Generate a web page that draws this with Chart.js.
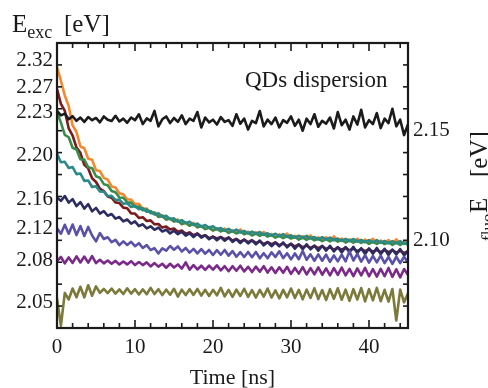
<!DOCTYPE html>
<html>
<head>
<meta charset="utf-8">
<script src="https://cdn.jsdelivr.net/npm/chart.js"></script>
<style>
  html, body { margin: 0; padding: 0; background: #ffffff; }
  #wrap { width: 488px; height: 388px; position: relative; }
</style>
</head>
<body>
<div id="wrap"><canvas id="c" width="488" height="388"></canvas></div>
<script>
// ---------- data ----------
const times = [0,0.5,1,1.5,2,2.5,3,3.5,4,4.5,5,5.5,6,6.5,7,7.5,8,8.5,9,9.5,10,10.5,11,11.5,12,12.5,13,13.5,14,14.5,15,15.5,16,16.5,17,17.5,18,18.5,19,19.5,20,20.5,21,21.5,22,22.5,23,23.5,24,24.5,25,25.5,26,26.5,27,27.5,28,28.5,29,29.5,30,30.5,31,31.5,32,32.5,33,33.5,34,34.5,35,35.5,36,36.5,37,37.5,38,38.5,39,39.5,40,40.5,41,41.5,42,42.5,43,43.5,44,44.5,45];

const qdDispersion = [2.1590,2.1570,2.1578,2.1552,2.1566,2.1545,2.1560,2.1540,2.1562,2.1548,
2.1558,2.1538,2.1565,2.1550,2.1544,2.1568,2.1542,2.1555,2.1536,2.1560,
2.1548,2.1575,2.1530,2.1556,2.1545,2.1590,2.1520,2.1552,2.1565,2.1535,
2.1558,2.1540,2.1570,2.1530,2.1555,2.1545,2.1585,2.1515,2.1560,2.1538,
2.1550,2.1528,2.1562,2.1540,2.1548,2.1522,2.1575,2.1532,2.1555,2.1505,
2.1545,2.1535,2.1590,2.1520,2.1550,2.1530,2.1560,2.1515,2.1548,2.1536,
2.1565,2.1522,2.1550,2.1500,2.1555,2.1530,2.1575,2.1518,2.1545,2.1532,
2.1560,2.1510,2.1585,2.1525,2.1550,2.1505,2.1565,2.1528,2.1595,2.1515,
2.1548,2.1530,2.1580,2.1512,2.1555,2.1535,2.1600,2.1520,2.1550,2.1480,
2.1530];

const exc232 = [2.1790,2.1728,2.1660,2.1612,2.1524,2.1494,2.1428,2.1420,2.1372,2.1367,
2.1320,2.1316,2.1285,2.1277,2.1246,2.1241,2.1214,2.1210,2.1186,2.1186,
2.1165,2.1167,2.1144,2.1145,2.1126,2.1128,2.1110,2.1115,2.1094,2.1100,
2.1086,2.1095,2.1074,2.1080,2.1067,2.1080,2.1059,2.1066,2.1054,2.1061,
2.1045,2.1055,2.1042,2.1054,2.1037,2.1045,2.1034,2.1050,2.1029,2.1039,
2.1029,2.1037,2.1024,2.1038,2.1021,2.1029,2.1015,2.1027,2.1015,2.1031,
2.1011,2.1021,2.1007,2.1019,2.1007,2.1022,2.1002,2.1014,2.1002,2.1014,
2.1001,2.1018,2.0996,2.1008,2.0993,2.1005,2.0993,2.1007,2.0990,2.1003,
2.0991,2.1007,2.0986,2.0999,2.0985,2.1001,2.0985,2.1004,2.0982,2.0996,
2.0983];

const exc227 = [2.1690,2.1622,2.1590,2.1511,2.1478,2.1423,2.1399,2.1344,2.1328,2.1283,
2.1266,2.1236,2.1225,2.1200,2.1194,2.1173,2.1170,2.1149,2.1146,2.1123,
2.1122,2.1102,2.1105,2.1088,2.1091,2.1073,2.1074,2.1058,2.1063,2.1049,
2.1054,2.1039,2.1045,2.1030,2.1036,2.1023,2.1031,2.1017,2.1023,2.1010,
2.1016,2.1008,2.1015,2.1005,2.1012,2.0999,2.1006,2.0994,2.1003,2.0992,
2.1000,2.0988,2.0995,2.0983,2.0992,2.0982,2.0990,2.0978,2.0985,2.0974,
2.0983,2.0972,2.0981,2.0968,2.0976,2.0965,2.0974,2.0964,2.0973,2.0961,
2.0968,2.0957,2.0967,2.0957,2.0966,2.0954,2.0962,2.0951,2.0961,2.0951,
2.0960,2.0948,2.0956,2.0946,2.0956,2.0946,2.0955,2.0944,2.0952,2.0942,
2.0950];

const exc223 = [2.1585,2.1537,2.1481,2.1470,2.1422,2.1414,2.1370,2.1368,2.1333,2.1329,
2.1292,2.1285,2.1256,2.1251,2.1225,2.1219,2.1195,2.1194,2.1173,2.1172,
2.1152,2.1154,2.1137,2.1141,2.1124,2.1125,2.1107,2.1110,2.1095,2.1101,
2.1086,2.1090,2.1074,2.1080,2.1067,2.1074,2.1060,2.1065,2.1051,2.1057,
2.1045,2.1053,2.1041,2.1047,2.1034,2.1042,2.1031,2.1040,2.1028,2.1035,
2.1022,2.1031,2.1020,2.1029,2.1017,2.1025,2.1012,2.1020,2.1010,2.1019,
2.1008,2.1016,2.1003,2.1012,2.1002,2.1012,2.1000,2.1008,2.0996,2.1005,
2.0995,2.1005,2.0994,2.1002,2.0990,2.0999,2.0989,2.0999,2.0988,2.0996,
2.0984,2.0993,2.0984,2.0994,2.0983,2.0991,2.0979,2.0989,2.0979,2.0989,
2.0979];

const exc220 = [2.1395,2.1356,2.1358,2.1330,2.1334,2.1302,2.1305,2.1271,2.1273,2.1243,
2.1247,2.1223,2.1222,2.1202,2.1203,2.1184,2.1186,2.1167,2.1169,2.1152,
2.1157,2.1142,2.1146,2.1130,2.1134,2.1118,2.1123,2.1108,2.1112,2.1096,
2.1100,2.1085,2.1092,2.1079,2.1085,2.1070,2.1076,2.1062,2.1070,2.1057,
2.1064,2.1050,2.1056,2.1044,2.1052,2.1041,2.1049,2.1036,2.1043,2.1031,
2.1040,2.1030,2.1038,2.1025,2.1032,2.1021,2.1030,2.1019,2.1028,2.1015,
2.1023,2.1012,2.1021,2.1011,2.1020,2.1008,2.1015,2.1004,2.1014,2.1004,
2.1012,2.1000,2.1008,2.0997,2.1007,2.0997,2.1006,2.0994,2.1002,2.0991,
2.1001,2.0991,2.1001,2.0989,2.0997,2.0986,2.0996,2.0987,2.0996,2.0984,
2.0992];

const exc216 = [2.1195,2.1180,2.1202,2.1172,2.1188,2.1156,2.1174,2.1145,2.1165,2.1132,
2.1148,2.1122,2.1133,2.1112,2.1120,2.1099,2.1106,2.1086,2.1095,2.1076,
2.1086,2.1065,2.1073,2.1054,2.1064,2.1048,2.1058,2.1040,2.1049,2.1031,
2.1044,2.1028,2.1039,2.1021,2.1032,2.1015,2.1030,2.1012,2.1023,2.1005,
2.1017,2.1000,2.1015,2.0998,2.1013,2.0993,2.1006,2.0987,2.1003,2.0986,
2.1000,2.0982,2.0999,2.0977,2.0992,2.0973,2.0990,2.0972,2.0990,2.0968,
2.0985,2.0962,2.0981,2.0960,2.0982,2.0959,2.0976,2.0953,2.0975,2.0953,
2.0975,2.0949,2.0969,2.0945,2.0969,2.0946,2.0970,2.0942,2.0964,2.0938,
2.0963,2.0939,2.0965,2.0937,2.0961,2.0933,2.0958,2.0935,2.0960,2.0932,
2.0950];

const exc212 = [2.1055,2.1030,2.1071,2.1030,2.1072,2.1024,2.1065,2.1020,2.1061,2.1022,
2.0995,2.1033,2.1006,2.1014,2.0992,2.1002,2.0978,2.0995,2.0979,2.0993,
2.0973,2.0987,2.0965,2.0978,2.0956,2.0964,2.0940,2.0963,2.0953,2.0974,
2.0957,2.0972,2.0949,2.0965,2.0944,2.0961,2.0940,2.0960,2.0939,2.0956,
2.0933,2.0955,2.0934,2.0956,2.0930,2.0951,2.0925,2.0946,2.0924,2.0947,
2.0923,2.0947,2.0918,2.0941,2.0918,2.0945,2.0924,2.0950,2.0919,2.0941,
2.0913,2.0940,2.0914,2.0951,2.0911,2.0936,2.0907,2.0936,2.0907,2.0935,
2.0902,2.0931,2.0904,2.0935,2.0904,2.0950,2.0908,2.0938,2.0903,2.0932,
2.0898,2.0929,2.0899,2.0930,2.0896,2.0924,2.0893,2.0925,2.0896,2.0925,
2.0898];

const exc208 = [2.0905,2.0924,2.0895,2.0922,2.0897,2.0927,2.0899,2.0926,2.0898,2.0928,
2.0896,2.0911,2.0895,2.0908,2.0893,2.0906,2.0890,2.0903,2.0890,2.0905,
2.0887,2.0901,2.0887,2.0899,2.0881,2.0896,2.0880,2.0893,2.0875,2.0893,
2.0876,2.0890,2.0871,2.0899,2.0866,2.0887,2.0867,2.0884,2.0865,2.0885,
2.0866,2.0886,2.0863,2.0882,2.0859,2.0882,2.0861,2.0884,2.0858,2.0879,
2.0855,2.0880,2.0857,2.0882,2.0853,2.0877,2.0851,2.0877,2.0852,2.0879,
2.0847,2.0874,2.0848,2.0878,2.0844,2.0873,2.0845,2.0877,2.0843,2.0872,
2.0840,2.0873,2.0842,2.0875,2.0840,2.0870,2.0837,2.0872,2.0840,2.0874,
2.0836,2.0869,2.0834,2.0870,2.0836,2.0874,2.0833,2.0868,2.0831,2.0869,
2.0842];

const exc205 = [2.0735,2.0610,2.0760,2.0730,2.0780,2.0740,2.0788,2.0740,2.0795,2.0747,
2.0790,2.0760,2.0778,2.0759,2.0780,2.0757,2.0776,2.0755,2.0781,2.0757,
2.0777,2.0753,2.0776,2.0754,2.0783,2.0755,2.0777,2.0750,2.0775,2.0752,
2.0779,2.0743,2.0775,2.0750,2.0777,2.0751,2.0778,2.0748,2.0774,2.0746,
2.0774,2.0749,2.0783,2.0744,2.0774,2.0742,2.0775,2.0746,2.0779,2.0742,
2.0773,2.0739,2.0774,2.0743,2.0780,2.0739,2.0772,2.0735,2.0774,2.0740,
2.0780,2.0737,2.0774,2.0731,2.0775,2.0737,2.0781,2.0732,2.0773,2.0728,
2.0777,2.0733,2.0781,2.0729,2.0775,2.0724,2.0777,2.0730,2.0782,2.0721,
2.0777,2.0726,2.0783,2.0722,2.0774,2.0720,2.0778,2.0634,2.0775,2.0717,
2.0759];

// left-axis excitation labels and the E_fluo level each label marks
const excLabels  = ['2.32','2.27','2.23','2.20','2.16','2.12','2.08','2.05'];
const excLabelAt = [2.1822, 2.1695, 2.1585, 2.1389, 2.1184, 2.1056, 2.0910, 2.0718];
// right-axis (E_fluo) labelled ticks
const fluoTicks = [2.10, 2.15];
const fluoTickLabels = ['2.10', '2.15'];
// x-axis labelled ticks
const timeTicks = [0, 10, 20, 30, 40];

// ---------- chart ----------
const FONT = "'Liberation Serif', 'Times New Roman', serif";
const INK = '#1a1a1a';

function series(values, color, order) {
  return {
    data: times.map((t, i) => ({ x: t, y: values[i] })),
    borderColor: color, borderWidth: 2.6, pointRadius: 0,
    tension: 0, fill: false, borderJoinStyle: 'round', order: order,
    yAxisID: 'y'
  };
}

const framePlugin = {
  id: 'frame',
  afterDatasetsDraw(chart) {
    const { ctx, chartArea: a, scales } = chart;
    ctx.save();
    ctx.strokeStyle = INK;
    ctx.lineWidth = 1.6;
    const line = (x1, y1, x2, y2) => { ctx.beginPath(); ctx.moveTo(x1, y1); ctx.lineTo(x2, y2); ctx.stroke(); };
    for (let t = 2; t < 45; t += 2) {
      const x = scales.x.getPixelForValue(t);
      const len = (t % 10 === 0) ? 8 : 5;
      line(x, a.bottom, x, a.bottom - len);
      line(x, a.top, x, a.top + len);
    }
    for (let k = 207; k <= 218; k++) {
      const y = scales.y.getPixelForValue(k / 100);
      line(a.left, y, a.left + 5, y);
      line(a.right, y, a.right - 5, y);
    }
    ctx.lineWidth = 2.2;
    ctx.strokeRect(a.left, a.top, a.right - a.left, a.bottom - a.top);
    ctx.restore();
  },
  afterDraw(chart) {
    const { ctx, chartArea: a } = chart;
    ctx.save();
    ctx.fillStyle = INK;
    ctx.textBaseline = 'alphabetic';
    // E_exc [eV]
    ctx.font = "25px " + FONT;
    ctx.fillText('E', 12, 32);
    const wE = ctx.measureText('E').width;
    ctx.font = "18px " + FONT;
    ctx.fillText('exc', 12 + wE, 38);
    ctx.font = "25px " + FONT;
    ctx.fillText('[eV]', 64, 32);
    // QDs dispersion
    ctx.font = "23px " + FONT;
    ctx.fillText('QDs dispersion', 245, 87);
    // Time [ns]
    ctx.font = "22px " + FONT;
    ctx.textAlign = 'center';
    ctx.fillText('Time [ns]', (a.left + a.right) / 2, 384);
    ctx.textAlign = 'left';
    // E_fluo [eV] (rotated)
    ctx.save();
    ctx.translate(487, 213);
    ctx.rotate(-Math.PI / 2);
    ctx.font = "25px " + FONT;
    ctx.fillText('E', 0, 0);
    ctx.fillText('[eV]', 36, 0);
    ctx.restore();
    ctx.save();
    ctx.translate(493, 241);
    ctx.rotate(-Math.PI / 2);
    ctx.font = "17px " + FONT;
    ctx.fillText('fluo', 0, 0);
    ctx.restore();
    ctx.restore();
  }
};

new Chart(document.getElementById('c'), {
  type: 'line',
  data: {
    datasets: [
      series(qdDispersion, '#1b1b1b', 0),
      series(exc220, '#2b8a88', 1),
      series(exc223, '#3a8c4a', 2),
      series(exc232, '#f7862c', 3),
      series(exc208, '#7c2a8a', 4),
      series(exc212, '#5a52a8', 5),
      series(exc216, '#2c2c62', 6),
      series(exc227, '#7b1b1c', 7),
      series(exc205, '#7b7a3a', 8)
    ]
  },
  options: {
    responsive: false,
    animation: false,
    events: [],
    layout: { padding: { top: 43, left: 0, right: 0, bottom: 0 } },
    plugins: { legend: { display: false }, tooltip: { enabled: false }, title: { display: false } },
    scales: {
      x: {
        type: 'linear', position: 'bottom', min: 0, max: 45,
        afterBuildTicks: s => { s.ticks = timeTicks.map(v => ({ value: v })); },
        afterFit: s => { s.height = 60; },
        grid: { display: false, drawTicks: false },
        border: { display: false },
        ticks: { autoSkip: false, maxRotation: 0, padding: 7, color: INK, font: { family: FONT, size: 21 } }
      },
      yL: {
        type: 'linear', position: 'left', min: 2.06, max: 2.19,
        afterBuildTicks: s => { s.ticks = excLabelAt.slice().sort((p, q) => p - q).map(v => ({ value: v })); },
        afterFit: s => { s.width = 57; },
        grid: { display: false, drawTicks: false },
        border: { display: false },
        ticks: {
          autoSkip: false, padding: 4, color: INK, font: { family: FONT, size: 21 },
          callback: v => excLabels[excLabelAt.indexOf(v)]
        }
      },
      y: {
        type: 'linear', position: 'right', min: 2.06, max: 2.19,
        afterBuildTicks: s => { s.ticks = fluoTicks.map(v => ({ value: v })); },
        afterFit: s => { s.width = 80; },
        grid: { display: false, drawTicks: false },
        border: { display: false },
        ticks: {
          autoSkip: false, padding: 5, color: INK, font: { family: FONT, size: 21 },
          callback: v => fluoTickLabels[fluoTicks.indexOf(v)]
        }
      }
    }
  },
  plugins: [framePlugin]
});
</script>
</body>
</html>
